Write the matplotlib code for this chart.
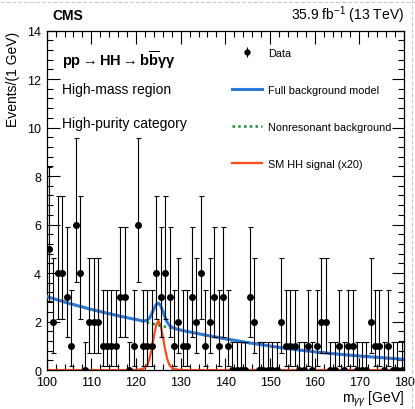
import matplotlib
matplotlib.use('Agg')
import matplotlib.pyplot as plt
import numpy as np
from matplotlib.lines import Line2D
from matplotlib.ticker import MultipleLocator

plt.rcParams['font.family'] = ['Liberation Sans', 'DejaVu Sans']
plt.rcParams['mathtext.fontset'] = 'custom'
plt.rcParams['mathtext.rm'] = 'Liberation Sans'
plt.rcParams['mathtext.it'] = 'Liberation Sans:italic'
plt.rcParams['mathtext.bf'] = 'Liberation Sans:bold'

# data: events per 1 GeV bin, 100-180 GeV
bin_edges = np.arange(100, 181, 1)
counts = [5, 2, 4, 4, 3, 1, 6, 4, 0, 2, 2, 2, 1, 1, 1, 1, 3, 3, 0, 1,
          6, 1, 1, 1, 4, 3, 4, 3, 1, 2, 1, 1, 3, 2, 4, 1, 2, 3, 1, 3,
          1, 0, 0, 0, 0, 3, 2, 0, 0, 0, 0, 0, 2, 1, 1, 1, 0, 0, 1, 0,
          1, 2, 2, 0, 0, 1, 0, 1, 1, 0, 0, 0, 2, 1, 1, 0, 1, 0, 0, 0]

# poisson 68% intervals (lower, upper) per count
poisson_lo = {0: 0.0, 1: 0.173, 2: 0.708, 3: 1.367, 4: 2.086, 5: 2.840, 6: 3.620}
poisson_hi = {0: 1.148, 1: 3.300, 2: 4.638, 3: 5.918, 4: 7.163, 5: 8.382, 6: 9.584}

# model curves
x_coarse_lo = [100, 105, 110, 115]
x_fine = list(np.arange(119, 131.01, 0.5))
x_coarse_hi = [135, 140, 145, 150, 155, 160, 165, 170, 175, 180]
nonres_lo = [3.03, 2.75, 2.50, 2.28]
nonres_fine = [2.12, 2.10, 2.08, 2.06, 2.03, 2.01, 1.99, 1.96, 1.94, 1.92,
               1.90, 1.87, 1.85, 1.83, 1.81, 1.79, 1.77, 1.75, 1.73, 1.71,
               1.69, 1.67, 1.65, 1.63, 1.61]
nonres_hi = [1.46, 1.29, 1.13, 0.99, 0.86, 0.75, 0.66, 0.58, 0.51, 0.44]
single_h_fine = [0, 0, 0, 0.01, 0.01, 0.02, 0.04, 0.09, 0.20, 0.39, 0.62, 0.83,
                 0.91, 0.83, 0.62, 0.39, 0.20, 0.09, 0.04, 0.02, 0.01, 0.01, 0, 0, 0]
hh_fine = [0.0, 0.005, 0.01, 0.015, 0.03, 0.05, 0.10, 0.20, 0.45, 0.87, 1.39, 1.85,
           2.03, 1.85, 1.39, 0.87, 0.45, 0.20, 0.10, 0.05, 0.03, 0.015, 0.01, 0.005, 0.0]

x_model = np.array(x_coarse_lo + x_fine + x_coarse_hi)
nonres = np.array(nonres_lo + nonres_fine + nonres_hi)
zeros_lo = [0] * len(x_coarse_lo)
zeros_hi = [0] * len(x_coarse_hi)
full_bkg = nonres + np.array(zeros_lo + single_h_fine + zeros_hi)
hh_sig = np.array(zeros_lo + hh_fine + zeros_hi)

centers = (bin_edges[:-1] + bin_edges[1:]) / 2
counts = np.array(counts)
err_lo = counts - np.array([poisson_lo[c] for c in counts])
err_hi = np.array([poisson_hi[c] for c in counts]) - counts

fig = plt.figure(figsize=(4.15, 4.10), dpi=100)
ax = fig.add_axes([0.1125, 0.095, 0.861, 0.828])

ax.plot(x_model, hh_sig, color='#ff4a1a', lw=1.6, zorder=2)
ax.plot(x_model, nonres, color='#1f8a3c', lw=1.8, ls=(0, (1, 1.3)), zorder=3)
ax.plot(x_model, full_bkg, color='#2c7bd8', lw=2.2, zorder=4)
ax.errorbar(centers, counts, yerr=[err_lo, err_hi], fmt='o', color='black',
            ms=4, elinewidth=0.8, capsize=1.8, capthick=0.8, zorder=5)

ax.set_xlim(100, 180)
ax.set_ylim(0, 14)
ax.xaxis.set_major_locator(MultipleLocator(10))
ax.xaxis.set_minor_locator(MultipleLocator(2))
ax.yaxis.set_major_locator(MultipleLocator(2))
ax.yaxis.set_minor_locator(MultipleLocator(0.4))
ax.tick_params(which='both', direction='in', top=True, right=True, labelsize=9)
ax.tick_params(which='major', length=9, width=0.8)
ax.tick_params(which='minor', length=4.5, width=0.8)
ax.tick_params(axis='x', pad=4.5)
ax.tick_params(axis='y', pad=4)
for s in ax.spines.values():
    s.set_linewidth(0.9)

ax.set_ylabel('Events/(1 GeV)', fontsize=10, loc='top', labelpad=5)
ax.set_xlabel(r'm$_{\gamma\gamma}$ [GeV]', fontsize=10, loc='right', labelpad=0)

fig.text(0.125, 0.962, 'CMS', fontsize=10, fontweight='bold', va='center')
fig.text(0.9735, 0.962, r'35.9 fb$^{-1}$ (13 TeV)', fontsize=10, ha='right', va='center')

ax.text(0.043, 0.916,
        r'pp$\rightarrow$HH$\rightarrow$b$\overline{\mathbf{b}}$$\mathbf{\gamma\gamma}$',
        transform=ax.transAxes, fontsize=10.5, fontweight='bold', va='center')
ax.text(0.043, 0.828, 'High-mass region', transform=ax.transAxes, fontsize=10, va='center')
ax.text(0.043, 0.728, 'High-purity category', transform=ax.transAxes, fontsize=10, va='center')

handles = [
    ax.errorbar([], [], yerr=[[1], [1]], fmt='o', color='black', ms=3.5, elinewidth=0.8),
    Line2D([], [], color='#2c7bd8', lw=2.2),
    Line2D([], [], color='#1f8a3c', lw=1.8, ls=(0, (1, 1.3))),
    Line2D([], [], color='#ff4a1a', lw=1.6),
]
labels = ['Data', 'Full background model', 'Nonresonant background', 'SM HH signal (x20)']
ax.legend(handles, labels, loc='upper left', bbox_to_anchor=(0.49, 0.978), frameon=False,
          fontsize=7.8, handlelength=2.8, labelspacing=2.5, handletextpad=0.6)

# faint dashed frame from the original crop
fig.add_artist(Line2D([0, 1], [0.992, 0.992], transform=fig.transFigure,
                      color='#cccccc', lw=0.8, ls='--'))
fig.add_artist(Line2D([0.992, 0.992], [0, 1], transform=fig.transFigure,
                      color='#cccccc', lw=0.8, ls='--'))

fig.savefig('out.png', dpi=100)
